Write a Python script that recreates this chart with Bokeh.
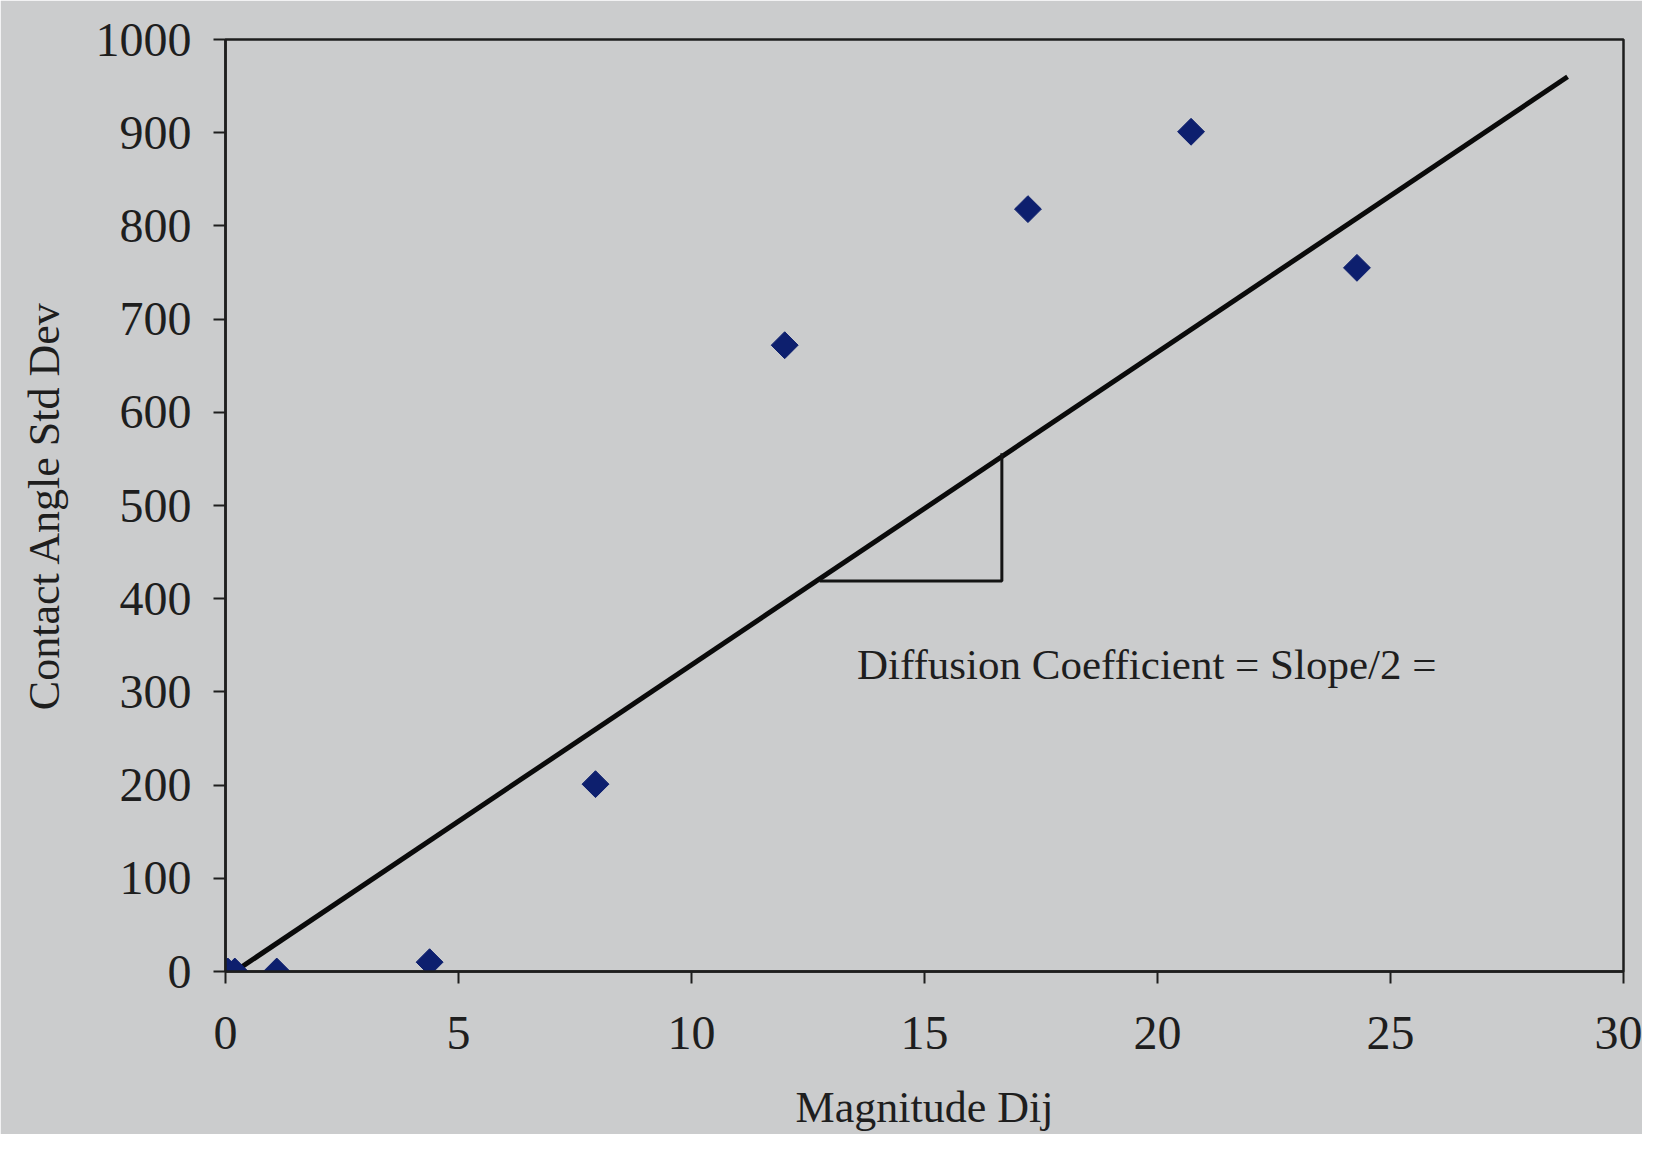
from bokeh.plotting import figure
from bokeh.models import Range1d, FixedTicker, Label
from bokeh.embed import file_html
from bokeh.resources import INLINE
import numpy as np

# Data
magnitude_dij = [0.05, 0.2, 1.1, 4.38, 7.94, 12.0, 17.22, 20.72, 24.28]
contact_angle_sd = [0, 0, 0, 10, 201, 672, 818, 901, 755]

fit_x = [0.2, 28.8]
fit_y = [0, 960]

tri_x = [12.75, 16.66, 16.66]
tri_y = [419, 419, 556]

annot_text = "Diffusion Coefficient = Slope/2 ="
annot_x = 13.55
annot_y = 329

x_title = "Magnitude Dij"
y_title = "Contact Angle Std Dev"

x_ticks = [0, 5, 10, 15, 20, 25, 30]
y_ticks = [0, 100, 200, 300, 400, 500, 600, 700, 800, 900, 1000]

BG = "#cbcccd"
INK = "#1e1e1e"
FONT = "Liberation Serif"

p = figure(width=1642, height=1134, output_backend="svg", toolbar_location=None,
           x_range=Range1d(0, 30), y_range=Range1d(0, 1000))
p.min_border_left = 225
p.min_border_right = 19
p.min_border_top = 39
p.min_border_bottom = 163
p.background_fill_color = BG
p.border_fill_color = BG
p.outline_line_color = INK
p.outline_line_width = 2.5
p.grid.visible = False

p.xaxis.ticker = FixedTicker(ticks=x_ticks)
p.yaxis.ticker = FixedTicker(ticks=y_ticks)
for ax in (p.xaxis[0], p.yaxis[0]):
    ax.axis_line_color = INK
    ax.axis_line_width = 2.5
    ax.major_tick_line_color = INK
    ax.major_tick_line_width = 2
    ax.major_tick_out = 12
    ax.major_tick_in = 0
    ax.minor_tick_line_color = None
    ax.major_label_text_font = FONT
    ax.major_label_text_font_size = "48px"
    ax.major_label_text_color = INK
    ax.axis_label_text_font = FONT
    ax.axis_label_text_font_size = "44px"
    ax.axis_label_text_font_style = "normal"
    ax.axis_label_text_color = INK

p.xaxis.axis_label = x_title
p.yaxis.axis_label = y_title
p.xaxis.major_label_standoff = 33
p.yaxis.major_label_standoff = 22
p.xaxis.axis_label_standoff = 31
p.yaxis.axis_label_standoff = 24

# fit line
p.line(fit_x, fit_y, line_color="#0a0a0a", line_width=5)
# slope triangle
p.line(tri_x, tri_y, line_color="#141414", line_width=3)

# data points
p.scatter(magnitude_dij, contact_angle_sd, marker="square", angle=np.pi / 4,
          size=19, fill_color="#0d1f6e", line_color="#0d1f6e")

p.add_layout(Label(x=annot_x, y=annot_y, text=annot_text, text_font=FONT,
                   text_font_size="43px", text_color=INK,
                   text_baseline="middle", text_align="left"))

open("out.html", "w").write(file_html(p, INLINE))
